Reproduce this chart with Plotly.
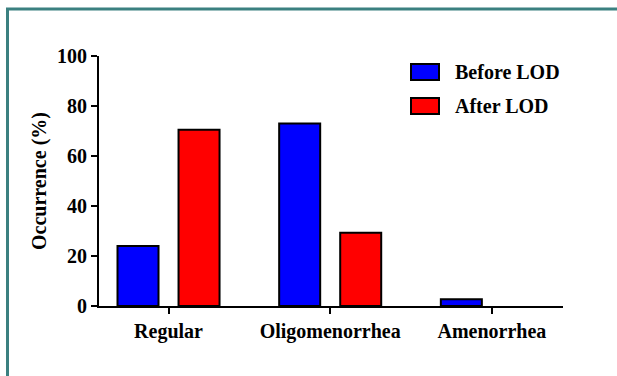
import plotly.graph_objects as go

categories = ["Regular", "Oligomenorrhea", "Amenorrhea"]
before_lod = [24, 73, 2.7]
after_lod = [70.5, 29.3, 0]
series_names = ["Before LOD", "After LOD"]
y_ticks = [0, 20, 40, 60, 80, 100]

W, H = 617, 376
L, R, T, B = 99, 54, 56, 70
pw, ph = W - L - R, H - T - B

def px(x):
    return (x - L) / pw

def py(y):
    return (H - B - y) / ph

FONT = "Liberation Serif"

def outline(vals):
    return [2 if v > 0 else 0 for v in vals]

fig = go.Figure()
fig.add_trace(go.Bar(x=categories, y=before_lod, name=series_names[0],
                     marker=dict(color="#0000ff", line=dict(color="#000000", width=outline(before_lod)))))
fig.add_trace(go.Bar(x=categories, y=after_lod, name=series_names[1],
                     marker=dict(color="#ff0000", line=dict(color="#000000", width=outline(after_lod)))))

shapes = []
annotations = []
# legend (drawn manually to match rectangular swatches)
for i, (name, col) in enumerate(zip(series_names, ["#0000ff", "#ff0000"])):
    cy = 72 + i * 34
    shapes.append(dict(type="rect", xref="paper", yref="paper",
                       x0=px(411), x1=px(439), y0=py(cy - 8), y1=py(cy + 8),
                       fillcolor=col, line=dict(color="#000000", width=2)))
    annotations.append(dict(xref="paper", yref="paper", x=px(453), y=py(cy),
                            xanchor="left", yanchor="middle", showarrow=False,
                            text="<b>%s</b>" % name,
                            font=dict(family=FONT, size=20, color="#000000")))
# teal frame
shapes.append(dict(type="line", xref="paper", yref="paper",
                   x0=px(6), x1=px(620), y0=py(9), y1=py(9),
                   line=dict(color="#3b8080", width=3)))
shapes.append(dict(type="line", xref="paper", yref="paper",
                   x0=px(7.5), x1=px(7.5), y0=py(8), y1=py(380),
                   line=dict(color="#3b8080", width=3)))

fig.update_layout(
    width=W, height=H,
    margin=dict(l=L, r=R, t=T, b=B),
    paper_bgcolor="white", plot_bgcolor="white",
    barmode="group", bargap=0.245, bargroupgap=0.328,
    showlegend=False,
    shapes=shapes, annotations=annotations,
    font=dict(family=FONT, size=20, color="#000000"),
)
fig.update_xaxes(range=[-0.43, 2.44], showline=True, linecolor="#000000", linewidth=2,
                 ticks="outside", ticklen=6, tickwidth=2, tickcolor="#000000",
                 showgrid=False, zeroline=False,
                 tickvals=categories,
                 ticktext=["<b>%s</b>" % c for c in categories],
                 tickfont=dict(family=FONT, size=20, color="#000000"))
fig.update_yaxes(range=[0, 100], showline=True, linecolor="#000000", linewidth=2,
                 ticks="outside", ticklen=6, tickwidth=2, tickcolor="#000000",
                 showgrid=False, zeroline=False,
                 tickvals=y_ticks, ticktext=["<b>%d</b>" % v for v in y_ticks],
                 tickfont=dict(family=FONT, size=20, color="#000000"),
                 title=dict(text="<b>Occurrence (%)</b>", standoff=5,
                            font=dict(family=FONT, size=20, color="#000000")))

fig.write_html("out.html", config={"displayModeBar": False},
               post_script="document.body.style.margin='0';document.body.style.overflow='hidden';")
